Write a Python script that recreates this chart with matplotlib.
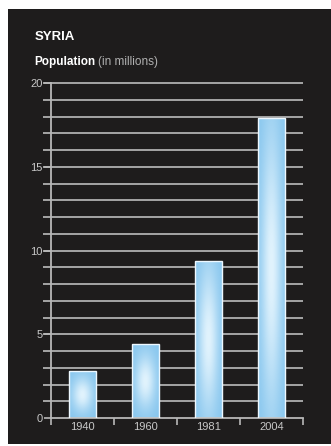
import matplotlib
matplotlib.use("Agg")
import matplotlib.pyplot as plt
import numpy as np
from matplotlib.patches import Rectangle

# data
years = ["1940", "1960", "1981", "2004"]
population = [2.8, 4.4, 9.4, 17.9]
y_ticks = [0, 5, 10, 15, 20]

plt.rcParams['font.family'] = ['Liberation Sans', 'DejaVu Sans']

W, H = 331, 446
fig = plt.figure(figsize=(W / 100, H / 100), dpi=100)
fig.patch.set_facecolor("white")

# dark panel behind everything
panel = Rectangle((8 / W, 2 / H), 1 - 8 / W, (444 - 9) / H, transform=fig.transFigure,
                  facecolor="#1e1c1c", edgecolor="none", zorder=-5)
fig.patches.append(panel)

ax = fig.add_axes([51 / W, (H - 418) / H, (303 - 51) / W, (418 - 83) / H])
ax.set_facecolor("none")
ax.set_xlim(0, len(years))
ax.set_ylim(0, 20)

# horizontal grid lines at every unit
for v in range(1, 21):
    ax.hlines(v, -0.13, len(years), color="#b0b0b0", lw=1.3, clip_on=False, zorder=1)

# bars with a soft glow fill
xs = np.arange(len(years)) + 0.5
bw = 0.42
edge_c = np.array([135, 198, 238]) / 255
mid_c = np.array([225, 243, 253]) / 255
gx = np.linspace(-1, 1, 60)
gy = np.linspace(-1, 1, 120)
GX, GY = np.meshgrid(gx, gy)
for x, v in zip(xs, population):
    rect = ax.bar(x, v, bw, color="none", edgecolor="#eef8ff", lw=1.0, zorder=3)[0]
    k = 1.2 if v > 8 else 2.0
    glow = np.exp(-(GX ** 2) * 1.8 - (GY ** 2) * k)
    img = edge_c[None, None, :] + (mid_c - edge_c)[None, None, :] * glow[:, :, None]
    im = ax.imshow(img, extent=[x - bw / 2, x + bw / 2, 0, v], aspect="auto",
                   origin="lower", zorder=2, interpolation="bilinear")
    im.set_clip_path(rect)

ax.set_xlim(0, len(years))
ax.set_ylim(0, 20)

# axes styling
for s in ["top", "right"]:
    ax.spines[s].set_visible(False)
ax.spines["left"].set_color("#b8b8b8")
ax.spines["bottom"].set_color("#b8b8b8")
ax.spines["left"].set_linewidth(1.3)
ax.spines["bottom"].set_linewidth(1.3)

ax.set_yticks(y_ticks)
ax.set_yticklabels([str(t) for t in y_ticks])
ax.tick_params(axis="y", colors="#b8b8b8", labelcolor="#c8c8c8", length=5, width=1.2,
               labelsize=8, pad=1)

ax.set_xticks(range(len(years) + 1))
ax.set_xticklabels([])
ax.tick_params(axis="x", colors="#b8b8b8", length=5, width=1.2, direction="out")
for x, lab in zip(xs, years):
    ax.text(x, -0.25, lab, ha="center", va="top", color="#c8c8c8", fontsize=8)

# titles
fig.text(35 / W, 1 - 37 / H, "SYRIA", color="white", fontsize=9.5, fontweight="bold",
         va="center", ha="left")
t1 = fig.text(34 / W, 1 - 62 / H, "Population", color="white", fontsize=8.5,
              fontweight="bold", va="center", ha="left")
fig.canvas.draw()
bb = t1.get_window_extent()
fig.text((bb.x1 + 3) / W, 1 - 62 / H, "(in millions)", color="#b0b0b0", fontsize=8.5,
         va="center", ha="left")

fig.savefig("out.png", dpi=100, facecolor=fig.get_facecolor())
